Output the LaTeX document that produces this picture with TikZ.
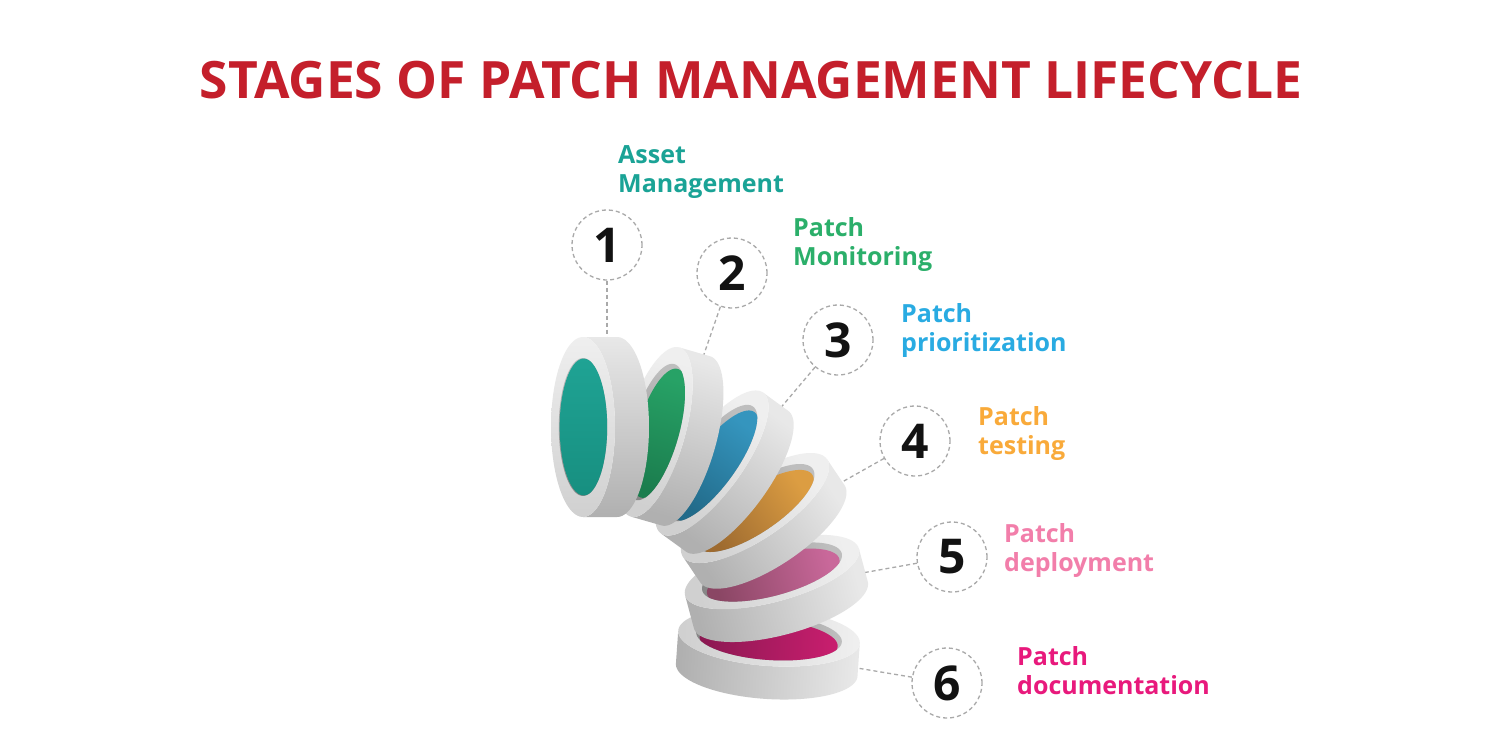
\documentclass[tikz,border=0pt]{standalone}
\usepackage{fontspec}
\setmainfont{Open Sans}
\definecolor{titlered}{HTML}{C41F2B}
\definecolor{cteal}{HTML}{1AA396}
\definecolor{cgreen}{HTML}{2BAF6A}
\definecolor{cblue}{HTML}{29ABE2}
\definecolor{corange}{HTML}{F9AA3A}
\definecolor{cpink}{HTML}{F27EAA}
\definecolor{cmag}{HTML}{E8197C}
\definecolor{bandlight}{HTML}{E8E8E8}
\definecolor{banddark}{HTML}{B0B0B0}
\definecolor{facelight}{HTML}{EFEFEF}
\definecolor{facedark}{HTML}{D0D0D0}
\definecolor{walllight}{HTML}{BEBEBE}
\definecolor{walldark}{HTML}{878787}
\definecolor{dashgray}{HTML}{A9A9A9}
\definecolor{flA}{HTML}{1FA394}\definecolor{fdA}{HTML}{178F80}
\definecolor{flB}{HTML}{27A266}\definecolor{fdB}{HTML}{1B7D4E}
\definecolor{flC}{HTML}{3595BE}\definecolor{fdC}{HTML}{226B8A}
\definecolor{flD}{HTML}{DC9D42}\definecolor{fdD}{HTML}{9E6B30}
\definecolor{flE}{HTML}{C9689A}\definecolor{fdE}{HTML}{8A4664}
\definecolor{flF}{HTML}{C81E6E}\definecolor{fdF}{HTML}{8C1852}
\tikzset{
  numcircle/.style={circle, draw=dashgray, line width=1.3pt, dash pattern=on 4pt off 3pt, minimum size=70pt, inner sep=0pt, font=\fontsize{48}{48}\selectfont\bfseries, text=black!93},
  conn/.style={draw=dashgray, line width=1.3pt, dash pattern=on 4pt off 3pt},
  stagelabel/.style={anchor=base west, align=left, inner sep=0pt, font=\fontsize{25}{29}\selectfont\bfseries},
}
% #1 cx, #2 cy, #3 A, #4 B, #5 phi, #6 L, #7 k, #8 light colour, #9 dark colour
\newcommand\drawdisc[9]{%
  \pgfmathsetmacro\cph{cos(#5)}%
  \pgfmathsetmacro\sph{sin(#5)}%
  \pgfmathsetmacro\ddx{-(#6)*(\sph)}%
  \pgfmathsetmacro\ddy{(#6)*(\cph)}%
  \pgfmathsetmacro\ang{-(#5)-90}%
  \pgfmathsetmacro\ra{(0.76+0.3*(#7))*(#3)}%
  \pgfmathsetmacro\rb{(0.75+0.3*(#7))*(#4)}%
  \pgfmathsetmacro\ia{0.76*(#3)}%
  \pgfmathsetmacro\ib{0.75*(#4)}%
  \pgfmathsetmacro\fx{(#1)+(#7)*(\ddx)}%
  \pgfmathsetmacro\fy{(#2)+(#7)*(\ddy)}%
  \shade[top color=bandlight, bottom color=banddark, shading angle=\ang]
    plot[domain=0:180, samples=60, variable=\q] ({(#1)+(#3)*cos(\q)*(\cph)-(#4)*sin(\q)*(\sph)},{(#2)+(#3)*cos(\q)*(\sph)+(#4)*sin(\q)*(\cph)})
    -- plot[domain=180:0, samples=60, variable=\q] ({(#1)+(\ddx)+(#3)*cos(\q)*(\cph)-(#4)*sin(\q)*(\sph)},{(#2)+(\ddy)+(#3)*cos(\q)*(\sph)+(#4)*sin(\q)*(\cph)}) -- cycle;
  \shade[top color=facelight, bottom color=facedark, shading angle=\ang]
    plot[domain=0:360, samples=100, variable=\q] ({(#1)+(#3)*cos(\q)*(\cph)-(#4)*sin(\q)*(\sph)},{(#2)+(#3)*cos(\q)*(\sph)+(#4)*sin(\q)*(\cph)}) -- cycle;
  \begin{scope}
    \clip plot[domain=0:360, samples=100, variable=\q] ({(#1)+(\ra)*cos(\q)*(\cph)-(\rb)*sin(\q)*(\sph)},{(#2)+(\ra)*cos(\q)*(\sph)+(\rb)*sin(\q)*(\cph)}) -- cycle;
    \shade[top color=walllight, bottom color=walldark, shading angle=\ang]
      plot[domain=0:360, samples=100, variable=\q] ({(#1)+(\ra)*cos(\q)*(\cph)-(\rb)*sin(\q)*(\sph)},{(#2)+(\ra)*cos(\q)*(\sph)+(\rb)*sin(\q)*(\cph)}) -- cycle;
    \shade[top color=#8, bottom color=#9, shading angle=\ang]
      plot[domain=0:360, samples=100, variable=\q] ({(\fx)+(\ia)*cos(\q)*(\cph)-(\ib)*sin(\q)*(\sph)},{(\fy)+(\ia)*cos(\q)*(\sph)+(\ib)*sin(\q)*(\cph)}) -- cycle;
  \end{scope}
}
\begin{document}
\begin{tikzpicture}[x=1pt,y=-1pt]
\fill[white] (0,0) rectangle (1500,750);
\useasboundingbox (0,0) rectangle (1500,750);

\node[anchor=base, inner sep=0pt, text=titlered, font=\fontsize{51.5}{52}\selectfont\bfseries] (title) at (751,98) {STAGES OF PATCH MANAGEMENT LIFECYCLE};

% number circles
\node[numcircle] (n1) at (607,245) {1};
\node[numcircle] (n2) at (732,273) {2};
\node[numcircle] (n3) at (838,340) {3};
\node[numcircle] (n4) at (915,441) {4};
\node[numcircle] (n5) at (952,557) {5};
\node[numcircle] (n6) at (947,683) {6};

% connector end points on the discs
\coordinate (e1) at (607,340);
\coordinate (e2) at (702,360);
\coordinate (e3) at (778,411);
\coordinate (e4) at (835,486);
\coordinate (e5) at (862,573);
\coordinate (e6) at (857,668);
\draw[conn] (n1) -- (e1);
\draw[conn] (n2) -- (e2);
\draw[conn] (n3) -- (e3);
\draw[conn] (n4) -- (e4);
\draw[conn] (n5) -- (e5);
\draw[conn] (n6) -- (e6);

% discs, back to front
\drawdisc{769}{637}{91}{29}{4}{33}{0.14}{flF}{fdF}
\drawdisc{772}{572}{90}{30}{-15}{34}{0.14}{flE}{fdE}
\drawdisc{755}{508}{87}{31}{-34}{31}{0.14}{flD}{fdD}
\drawdisc{712}{463}{87}{30}{-54}{31}{0.14}{flC}{fdC}
\drawdisc{655}{432}{88}{30}{-74}{32}{0.14}{flB}{fdB}
\drawdisc{583}{427}{90}{32}{-90}{34}{0.02}{flA}{fdA}

% labels (base = baseline of the last line)
\node[stagelabel, text=cteal] (l1) at (618,192) {Asset\\Management};
\node[stagelabel, text=cgreen] (l2) at (793,265) {Patch\\Monitoring};
\node[stagelabel, text=cblue] (l3) at (901,351) {Patch\\prioritization};
\node[stagelabel, text=corange] (l4) at (978,454) {Patch\\testing};
\node[stagelabel, text=cpink] (l5) at (1004,571) {Patch\\deployment};
\node[stagelabel, text=cmag] (l6) at (1017,694) {Patch\\documentation};
\end{tikzpicture}
\end{document}
